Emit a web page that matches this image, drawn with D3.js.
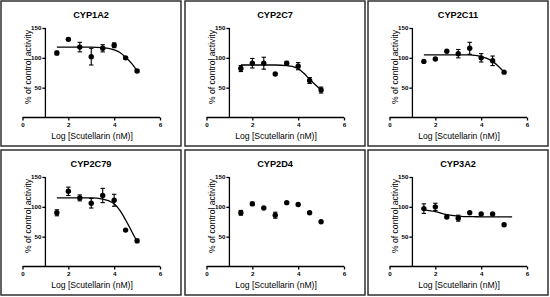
<!DOCTYPE html>
<html>
<head>
<meta charset="utf-8">
<script src="https://cdn.jsdelivr.net/npm/d3@7"></script>
<style>
  body { margin: 0; background: #fff; }
  svg { display: block; }
  text { font-family: "Liberation Sans", Arial, sans-serif; }
</style>
</head>
<body>
<svg id="svg" width="550" height="297"></svg>
<script>
// enzyme panels, row by row
var panelNames = ["CYP1A2", "CYP2C7", "CYP2C11", "CYP2C79", "CYP2D4", "CYP3A2"];

// log concentration of scutellarin (nM)
var logDose = [1.5, 2, 2.5, 3, 3.5, 4, 4.5, 5];

// % of control activity, mean
var activity = [
  [108, 131, 118, 102, 116, 121, 100, 78],
  [82, 91, 91, 73, 91, 86, 62, 46],
  [94, 98, 111, 107, 116, 100, 95, 76],
  [90, 126, 115, 106, 119, 111, 61, 43],
  [90, 105, 98, 86, 107, 104, 90, 75],
  [97, 100, 83, 81, 90, 88, 88, 70]
];

// error bar half-length (0 = hidden by the symbol)
var errors = [
  [3, 2, 8, 14, 6, 4, 2, 2],
  [5, 8, 10, 0, 3, 6, 5, 5],
  [0, 0, 0, 7, 10, 7, 8, 0],
  [5, 7, 5, 8, 12, 10, 0, 3],
  [4, 3, 0, 5, 0, 0, 0, 0],
  [8, 6, 0, 5, 0, 0, 0, 0]
];

// fitted curves (null = no fit drawn)
var curveX = [1.5, 2, 2.5, 3, 3.5, 3.75, 4, 4.25, 4.5, 4.75, 5];
var curveY = [
  [118, 118, 118, 118, 117, 116, 113.5, 109, 101, 91, 78],
  [88, 88, 88, 88, 87, 85.5, 82, 74, 64, 55, 46],
  [105, 105, 105, 105, 105, 104, 102, 99, 94, 86, 76],
  [115, 115, 115, 115, 113, 110.5, 105, 94, 78, 60, 42],
  null,
  [95, 92, 87, 84.5, 83.5, 83.4, 83.3, 83.3, 83.3, 83.3, 83.3]
];
var curveXEnd = [5, 5, 5, 5, 5, 5.35];

var xTicks = [0, 2, 4, 6];
var yTicks = [50, 100, 150];

var colLeft = [1, 185, 368],
    rowTop = [1, 150],
    panelW = 180,
    panelH = 145;

var svg = d3.select("#svg");

function drawPanel(i) {
  var px = colLeft[i % 3], py = rowTop[Math.floor(i / 3)];
  var g = svg.append("g").attr("transform", "translate(" + px + "," + py + ")");

  g.append("rect")
    .attr("width", panelW)
    .attr("height", panelH)
    .attr("fill", "#fff")
    .attr("stroke", "#222")
    .attr("stroke-width", 1.4);

  var x = d3.scaleLinear().domain([0, 6]).range([21.5, 159]);
  var y = d3.scaleLinear().domain([0, 150]).range([116.5, 27]);

  var xAxis = d3.axisBottom(x).tickValues(xTicks).tickFormat(d3.format("d"))
      .tickSize(3).tickSizeOuter(0).tickPadding(2);
  var yAxis = d3.axisLeft(y).tickValues(yTicks).tickFormat(d3.format("d"))
      .tickSize(3).tickSizeOuter(0).tickPadding(1);

  var gx = g.append("g").attr("transform", "translate(0," + y(0) + ")").call(xAxis);
  var gy = g.append("g").attr("transform", "translate(" + x(1) + ",0)").call(yAxis);
  gx.select(".domain").attr("d", "M" + x(0) + ",0H" + x(6));
  gy.select(".domain").attr("d", "M0," + y(0) + "V" + y(150));
  [gx, gy].forEach(function(a){
    a.selectAll(".domain, line").attr("stroke", "#000").attr("stroke-width", 1.3);
    a.selectAll("text")
      .attr("font-size", 6.2)
      .attr("font-weight", "bold")
      .attr("fill", "#000")
      .attr("font-family", "Liberation Sans, Arial, sans-serif");
  });

  g.append("text")
    .attr("x", panelW / 2)
    .attr("y", 17.3)
    .attr("text-anchor", "middle")
    .attr("font-size", 9.2)
    .attr("font-weight", "bold")
    .text(panelNames[i]);

  g.append("text")
    .attr("transform", "translate(30,66) rotate(-90)")
    .attr("text-anchor", "middle")
    .attr("font-size", 8.6)
    .text("% of control activity");

  g.append("text")
    .attr("x", 91)
    .attr("y", 137.5)
    .attr("text-anchor", "middle")
    .attr("font-size", 8.6)
    .text("Log [Scutellarin (nM)]");

  if (curveY[i]) {
    var pts = curveX.map(function(cx, k){ return [cx, curveY[i][k]]; });
    pts[pts.length - 1][0] = curveXEnd[i];
    var line = d3.line()
      .x(function(d){ return x(d[0]); })
      .y(function(d){ return y(d[1]); })
      .curve(d3.curveMonotoneX);
    g.append("path")
      .attr("d", line(pts))
      .attr("fill", "none")
      .attr("stroke", "#000")
      .attr("stroke-width", 1.3);
  }

  logDose.forEach(function(d, k){
    var m = activity[i][k], e = errors[i][k];
    if (e > 0) {
      var eb = g.append("g").attr("stroke", "#000").attr("stroke-width", 1.1);
      eb.append("line").attr("x1", x(d)).attr("x2", x(d)).attr("y1", y(m - e)).attr("y2", y(m + e));
      eb.append("line").attr("x1", x(d) - 2.2).attr("x2", x(d) + 2.2).attr("y1", y(m + e)).attr("y2", y(m + e));
      eb.append("line").attr("x1", x(d) - 2.2).attr("x2", x(d) + 2.2).attr("y1", y(m - e)).attr("y2", y(m - e));
    }
    g.append("circle")
      .attr("cx", x(d))
      .attr("cy", y(m))
      .attr("r", 2.7)
      .attr("fill", "#000");
  });
}

panelNames.forEach(function(n, i){ drawPanel(i); });
</script>
</body>
</html>
